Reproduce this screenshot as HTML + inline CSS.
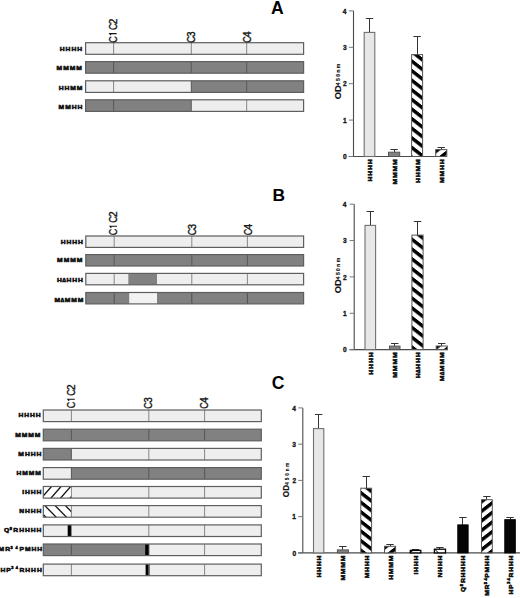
<!DOCTYPE html>
<html><head><meta charset="utf-8"><style>
html,body{margin:0;padding:0;background:#fff;width:520px;height:598px;overflow:hidden;}
svg{display:block;}
text{font-family:"Liberation Sans", sans-serif;}
</style></head><body>
<svg width="520" height="598" viewBox="0 0 520 598">
<defs>
<pattern id="hA3" patternUnits="userSpaceOnUse" width="40" height="9.6" patternTransform="translate(412.1,59.2) skewY(37.95)"><rect x="0" y="0" width="40" height="9.6" fill="#fff"/><rect x="0" y="0" width="40" height="4.4" fill="#000"/></pattern>
<pattern id="hA4" patternUnits="userSpaceOnUse" width="40" height="9.6" patternTransform="translate(435.3,149.6) skewY(-37.95)"><rect x="0" y="0" width="40" height="9.6" fill="#fff"/><rect x="0" y="0" width="40" height="4.4" fill="#000"/></pattern>
<pattern id="hB3" patternUnits="userSpaceOnUse" width="40" height="9.8" patternTransform="translate(412.4,237.5) skewY(37.95)"><rect x="0" y="0" width="40" height="9.8" fill="#fff"/><rect x="0" y="0" width="40" height="4.4" fill="#000"/></pattern>
<pattern id="hB4" patternUnits="userSpaceOnUse" width="40" height="9.6" patternTransform="translate(435.8,345.8) skewY(-37.95)"><rect x="0" y="0" width="40" height="9.6" fill="#fff"/><rect x="0" y="0" width="40" height="4.4" fill="#000"/></pattern>
<pattern id="hC3" patternUnits="userSpaceOnUse" width="40" height="9.6" patternTransform="translate(361.3,490.9) skewY(37.95)"><rect x="0" y="0" width="40" height="9.6" fill="#fff"/><rect x="0" y="0" width="40" height="4.4" fill="#000"/></pattern>
<pattern id="hC4" patternUnits="userSpaceOnUse" width="40" height="9.6" patternTransform="translate(384.5,545.6) skewY(-37.95)"><rect x="0" y="0" width="40" height="9.6" fill="#fff"/><rect x="0" y="0" width="40" height="4.4" fill="#000"/></pattern>
<pattern id="hC8" patternUnits="userSpaceOnUse" width="40" height="9.6" patternTransform="translate(482,508.7) skewY(-37.95)"><rect x="0" y="0" width="40" height="9.6" fill="#fff"/><rect x="0" y="0" width="40" height="4.4" fill="#000"/></pattern>
<clipPath id="clipI"><rect x="43.3" y="486.5" width="28.10000000000001" height="11.6"/></clipPath>
<clipPath id="clipN"><rect x="43.3" y="505.6" width="28.10000000000001" height="11.6"/></clipPath>
</defs>
<text x="271.0" y="13.5" font-size="17.6" font-weight="bold" fill="#000">A</text>
<text x="272.4" y="200.5" font-size="17.4" font-weight="bold" fill="#000">B</text>
<text x="271.8" y="388.5" font-size="17.6" font-weight="bold" fill="#000">C</text>
<rect x="85.6" y="42.7" width="28" height="11.6" fill="#eeeeee"/>
<rect x="113.6" y="42.7" width="77.7" height="11.6" fill="#eeeeee"/>
<rect x="191.3" y="42.7" width="55.4" height="11.6" fill="#eeeeee"/>
<rect x="246.7" y="42.7" width="56.9" height="11.6" fill="#eeeeee"/>
<line x1="113.6" y1="42.7" x2="113.6" y2="54.3" stroke="#7a7a7a" stroke-width="0.9"/>
<line x1="191.3" y1="42.7" x2="191.3" y2="54.3" stroke="#7a7a7a" stroke-width="0.9"/>
<line x1="246.7" y1="42.7" x2="246.7" y2="54.3" stroke="#7a7a7a" stroke-width="0.9"/>
<rect x="85.6" y="42.7" width="218" height="11.6" fill="none" stroke="#5e5e5e" stroke-width="1.2"/>
<text transform="scale(1.12,1)" fill="#111" stroke="#111" stroke-width="0.55"><tspan x="53.38" y="50.87" font-size="6.0" font-weight="bold">H</tspan><tspan x="58.56" y="50.87" font-size="6.0" font-weight="bold">H</tspan><tspan x="63.75" y="50.87" font-size="6.0" font-weight="bold">H</tspan><tspan x="68.93" y="50.87" font-size="6.0" font-weight="bold">H</tspan></text>
<rect x="85.6" y="61.6" width="28" height="11.6" fill="#818181"/>
<rect x="113.6" y="61.6" width="77.7" height="11.6" fill="#818181"/>
<rect x="191.3" y="61.6" width="55.4" height="11.6" fill="#818181"/>
<rect x="246.7" y="61.6" width="56.9" height="11.6" fill="#818181"/>
<line x1="113.6" y1="61.6" x2="113.6" y2="73.2" stroke="#4c4c4c" stroke-width="0.9"/>
<line x1="191.3" y1="61.6" x2="191.3" y2="73.2" stroke="#4c4c4c" stroke-width="0.9"/>
<line x1="246.7" y1="61.6" x2="246.7" y2="73.2" stroke="#4c4c4c" stroke-width="0.9"/>
<rect x="85.6" y="61.6" width="218" height="11.6" fill="none" stroke="#5e5e5e" stroke-width="1.2"/>
<text transform="scale(1.12,1)" fill="#111" stroke="#111" stroke-width="0.55"><tspan x="50.54" y="70.27" font-size="6.0" font-weight="bold">M</tspan><tspan x="56.39" y="70.27" font-size="6.0" font-weight="bold">M</tspan><tspan x="62.24" y="70.27" font-size="6.0" font-weight="bold">M</tspan><tspan x="68.08" y="70.27" font-size="6.0" font-weight="bold">M</tspan></text>
<rect x="85.6" y="80.8" width="28" height="11.6" fill="#eeeeee"/>
<rect x="113.6" y="80.8" width="77.7" height="11.6" fill="#eeeeee"/>
<rect x="191.3" y="80.8" width="55.4" height="11.6" fill="#818181"/>
<rect x="246.7" y="80.8" width="56.9" height="11.6" fill="#818181"/>
<line x1="113.6" y1="80.8" x2="113.6" y2="92.4" stroke="#7a7a7a" stroke-width="0.9"/>
<line x1="191.3" y1="80.8" x2="191.3" y2="92.4" stroke="#4c4c4c" stroke-width="0.9"/>
<line x1="246.7" y1="80.8" x2="246.7" y2="92.4" stroke="#4c4c4c" stroke-width="0.9"/>
<rect x="85.6" y="80.8" width="218" height="11.6" fill="none" stroke="#5e5e5e" stroke-width="1.2"/>
<text transform="scale(1.12,1)" fill="#111" stroke="#111" stroke-width="0.55"><tspan x="52.41" y="89.77" font-size="6.0" font-weight="bold">H</tspan><tspan x="57.59" y="89.77" font-size="6.0" font-weight="bold">H</tspan><tspan x="62.77" y="89.77" font-size="6.0" font-weight="bold">M</tspan><tspan x="68.62" y="89.77" font-size="6.0" font-weight="bold">M</tspan></text>
<rect x="85.6" y="99.8" width="28" height="11.6" fill="#818181"/>
<rect x="113.6" y="99.8" width="77.7" height="11.6" fill="#818181"/>
<rect x="191.3" y="99.8" width="55.4" height="11.6" fill="#eeeeee"/>
<rect x="246.7" y="99.8" width="56.9" height="11.6" fill="#eeeeee"/>
<line x1="113.6" y1="99.8" x2="113.6" y2="111.4" stroke="#4c4c4c" stroke-width="0.9"/>
<line x1="191.3" y1="99.8" x2="191.3" y2="111.4" stroke="#4c4c4c" stroke-width="0.9"/>
<line x1="246.7" y1="99.8" x2="246.7" y2="111.4" stroke="#7a7a7a" stroke-width="0.9"/>
<rect x="85.6" y="99.8" width="218" height="11.6" fill="none" stroke="#5e5e5e" stroke-width="1.2"/>
<text transform="scale(1.12,1)" fill="#111" stroke="#111" stroke-width="0.55"><tspan x="52.32" y="108.77" font-size="6.0" font-weight="bold">M</tspan><tspan x="58.17" y="108.77" font-size="6.0" font-weight="bold">M</tspan><tspan x="64.01" y="108.77" font-size="6.0" font-weight="bold">H</tspan><tspan x="69.19" y="108.77" font-size="6.0" font-weight="bold">H</tspan></text>
<g transform="translate(116.5,42.6) rotate(-90)"><text transform="translate(-0.06,0) scale(0.9,1)" x="0" y="0" font-size="10" fill="#111" stroke="#111" stroke-width="0.35">C</text><path d="M9,0.1 L9,-6.88 L7.4,-5.58" fill="none" stroke="#111" stroke-width="1.05"/><text transform="translate(12.54,0) scale(0.9,1)" x="0" y="0" font-size="10" fill="#111" stroke="#111" stroke-width="0.35">C</text><text transform="translate(18.4,0) scale(1.0,1)" x="0" y="0" font-size="10" fill="#111" stroke="#111" stroke-width="0.35">2</text></g>
<g transform="translate(194.6,42.6) rotate(-90)"><text transform="translate(-0.26,0) scale(0.9,1)" x="0" y="0" font-size="10" fill="#111" stroke="#111" stroke-width="0.35">C</text><text transform="translate(5.62,0) scale(1.0,1)" x="0" y="0" font-size="10" fill="#111" stroke="#111" stroke-width="0.35">3</text></g>
<g transform="translate(251.1,42.6) rotate(-90)"><text transform="translate(-0.26,0) scale(0.9,1)" x="0" y="0" font-size="10" fill="#111" stroke="#111" stroke-width="0.35">C</text><text transform="translate(5.67,0) scale(1.0,1)" x="0" y="0" font-size="10" fill="#111" stroke="#111" stroke-width="0.35">4</text></g>
<rect x="85.8" y="236" width="28.4" height="11.4" fill="#eeeeee"/>
<rect x="114.2" y="236" width="77.6" height="11.4" fill="#eeeeee"/>
<rect x="191.8" y="236" width="55.6" height="11.4" fill="#eeeeee"/>
<rect x="247.4" y="236" width="56.2" height="11.4" fill="#eeeeee"/>
<line x1="114.2" y1="236" x2="114.2" y2="247.4" stroke="#7a7a7a" stroke-width="0.9"/>
<line x1="191.8" y1="236" x2="191.8" y2="247.4" stroke="#7a7a7a" stroke-width="0.9"/>
<line x1="247.4" y1="236" x2="247.4" y2="247.4" stroke="#7a7a7a" stroke-width="0.9"/>
<rect x="85.8" y="236" width="217.8" height="11.4" fill="none" stroke="#5e5e5e" stroke-width="1.2"/>
<text transform="scale(1.12,1)" fill="#111" stroke="#111" stroke-width="0.55"><tspan x="54.19" y="243.77" font-size="6.0" font-weight="bold">H</tspan><tspan x="59.37" y="243.77" font-size="6.0" font-weight="bold">H</tspan><tspan x="64.55" y="243.77" font-size="6.0" font-weight="bold">H</tspan><tspan x="69.73" y="243.77" font-size="6.0" font-weight="bold">H</tspan></text>
<rect x="85.8" y="254.6" width="28.4" height="11.4" fill="#818181"/>
<rect x="114.2" y="254.6" width="77.6" height="11.4" fill="#818181"/>
<rect x="191.8" y="254.6" width="55.6" height="11.4" fill="#818181"/>
<rect x="247.4" y="254.6" width="56.2" height="11.4" fill="#818181"/>
<line x1="114.2" y1="254.6" x2="114.2" y2="266" stroke="#4c4c4c" stroke-width="0.9"/>
<line x1="191.8" y1="254.6" x2="191.8" y2="266" stroke="#4c4c4c" stroke-width="0.9"/>
<line x1="247.4" y1="254.6" x2="247.4" y2="266" stroke="#4c4c4c" stroke-width="0.9"/>
<rect x="85.8" y="254.6" width="217.8" height="11.4" fill="none" stroke="#5e5e5e" stroke-width="1.2"/>
<text transform="scale(1.12,1)" fill="#111" stroke="#111" stroke-width="0.55"><tspan x="50.99" y="262.37" font-size="6.0" font-weight="bold">M</tspan><tspan x="56.84" y="262.37" font-size="6.0" font-weight="bold">M</tspan><tspan x="62.68" y="262.37" font-size="6.0" font-weight="bold">M</tspan><tspan x="68.53" y="262.37" font-size="6.0" font-weight="bold">M</tspan></text>
<rect x="85.8" y="273.4" width="42.5" height="11.4" fill="#eeeeee"/>
<rect x="128.3" y="273.4" width="28.7" height="11.4" fill="#818181"/>
<rect x="157" y="273.4" width="146.6" height="11.4" fill="#eeeeee"/>
<line x1="114.2" y1="273.4" x2="114.2" y2="284.8" stroke="#7a7a7a" stroke-width="0.9"/>
<line x1="191.8" y1="273.4" x2="191.8" y2="284.8" stroke="#7a7a7a" stroke-width="0.9"/>
<line x1="247.4" y1="273.4" x2="247.4" y2="284.8" stroke="#7a7a7a" stroke-width="0.9"/>
<rect x="85.8" y="273.4" width="217.8" height="11.4" fill="none" stroke="#5e5e5e" stroke-width="1.2"/>
<text transform="scale(1.12,1)" fill="#111" stroke="#111" stroke-width="0.55"><tspan x="50.84" y="282.07" font-size="6.0" font-weight="bold">H</tspan><tspan x="55.53" y="282.07" font-size="4.6" font-weight="bold">&#916;</tspan><tspan x="59.28" y="282.07" font-size="6.0" font-weight="bold">H</tspan><tspan x="64.46" y="282.07" font-size="6.0" font-weight="bold">H</tspan><tspan x="69.64" y="282.07" font-size="6.0" font-weight="bold">H</tspan></text>
<rect x="85.8" y="292.5" width="43.7" height="11.4" fill="#818181"/>
<rect x="129.5" y="292.5" width="27.5" height="11.4" fill="#f2f2f2"/>
<rect x="157" y="292.5" width="146.6" height="11.4" fill="#818181"/>
<line x1="114.2" y1="292.5" x2="114.2" y2="303.9" stroke="#4c4c4c" stroke-width="0.9"/>
<line x1="191.8" y1="292.5" x2="191.8" y2="303.9" stroke="#4c4c4c" stroke-width="0.9"/>
<line x1="247.4" y1="292.5" x2="247.4" y2="303.9" stroke="#4c4c4c" stroke-width="0.9"/>
<rect x="85.8" y="292.5" width="217.8" height="11.4" fill="none" stroke="#5e5e5e" stroke-width="1.2"/>
<text transform="scale(1.12,1)" fill="#111" stroke="#111" stroke-width="0.55"><tspan x="48.62" y="301.67" font-size="6.0" font-weight="bold">M</tspan><tspan x="53.98" y="301.67" font-size="4.6" font-weight="bold">&#916;</tspan><tspan x="57.73" y="301.67" font-size="6.0" font-weight="bold">M</tspan><tspan x="63.58" y="301.67" font-size="6.0" font-weight="bold">M</tspan><tspan x="69.42" y="301.67" font-size="6.0" font-weight="bold">M</tspan></text>
<g transform="translate(116.9,235.3) rotate(-90)"><text transform="translate(-0.06,0) scale(0.9,1)" x="0" y="0" font-size="10" fill="#111" stroke="#111" stroke-width="0.35">C</text><path d="M9,0.1 L9,-6.88 L7.4,-5.58" fill="none" stroke="#111" stroke-width="1.05"/><text transform="translate(12.54,0) scale(0.9,1)" x="0" y="0" font-size="10" fill="#111" stroke="#111" stroke-width="0.35">C</text><text transform="translate(18.4,0) scale(1.0,1)" x="0" y="0" font-size="10" fill="#111" stroke="#111" stroke-width="0.35">2</text></g>
<g transform="translate(195.5,235.1) rotate(-90)"><text transform="translate(-0.26,0) scale(0.9,1)" x="0" y="0" font-size="10" fill="#111" stroke="#111" stroke-width="0.35">C</text><text transform="translate(5.62,0) scale(1.0,1)" x="0" y="0" font-size="10" fill="#111" stroke="#111" stroke-width="0.35">3</text></g>
<g transform="translate(251.5,235.1) rotate(-90)"><text transform="translate(-0.26,0) scale(0.9,1)" x="0" y="0" font-size="10" fill="#111" stroke="#111" stroke-width="0.35">C</text><text transform="translate(5.67,0) scale(1.0,1)" x="0" y="0" font-size="10" fill="#111" stroke="#111" stroke-width="0.35">4</text></g>
<rect x="43.3" y="410" width="28.1" height="11.6" fill="#eeeeee"/>
<rect x="71.4" y="410" width="77.4" height="11.6" fill="#eeeeee"/>
<rect x="148.8" y="410" width="55.8" height="11.6" fill="#eeeeee"/>
<rect x="204.6" y="410" width="56.7" height="11.6" fill="#eeeeee"/>
<line x1="71.4" y1="410" x2="71.4" y2="421.6" stroke="#7a7a7a" stroke-width="0.9"/>
<line x1="148.8" y1="410" x2="148.8" y2="421.6" stroke="#7a7a7a" stroke-width="0.9"/>
<line x1="204.6" y1="410" x2="204.6" y2="421.6" stroke="#7a7a7a" stroke-width="0.9"/>
<rect x="43.3" y="410" width="218" height="11.6" fill="none" stroke="#5e5e5e" stroke-width="1.2"/>
<text transform="scale(1.12,1)" fill="#111" stroke="#111" stroke-width="0.55"><tspan x="16.42" y="417.47" font-size="6.0" font-weight="bold">H</tspan><tspan x="21.6" y="417.47" font-size="6.0" font-weight="bold">H</tspan><tspan x="26.78" y="417.47" font-size="6.0" font-weight="bold">H</tspan><tspan x="31.96" y="417.47" font-size="6.0" font-weight="bold">H</tspan></text>
<rect x="43.3" y="429.2" width="28.1" height="11.6" fill="#818181"/>
<rect x="71.4" y="429.2" width="77.4" height="11.6" fill="#818181"/>
<rect x="148.8" y="429.2" width="55.8" height="11.6" fill="#818181"/>
<rect x="204.6" y="429.2" width="56.7" height="11.6" fill="#818181"/>
<line x1="71.4" y1="429.2" x2="71.4" y2="440.8" stroke="#4c4c4c" stroke-width="0.9"/>
<line x1="148.8" y1="429.2" x2="148.8" y2="440.8" stroke="#4c4c4c" stroke-width="0.9"/>
<line x1="204.6" y1="429.2" x2="204.6" y2="440.8" stroke="#4c4c4c" stroke-width="0.9"/>
<rect x="43.3" y="429.2" width="218" height="11.6" fill="none" stroke="#5e5e5e" stroke-width="1.2"/>
<text transform="scale(1.12,1)" fill="#111" stroke="#111" stroke-width="0.55"><tspan x="13.58" y="436.67" font-size="6.0" font-weight="bold">M</tspan><tspan x="19.43" y="436.67" font-size="6.0" font-weight="bold">M</tspan><tspan x="25.27" y="436.67" font-size="6.0" font-weight="bold">M</tspan><tspan x="31.12" y="436.67" font-size="6.0" font-weight="bold">M</tspan></text>
<rect x="43.3" y="448.4" width="28.1" height="11.6" fill="#818181"/>
<rect x="71.4" y="448.4" width="77.4" height="11.6" fill="#eeeeee"/>
<rect x="148.8" y="448.4" width="55.8" height="11.6" fill="#eeeeee"/>
<rect x="204.6" y="448.4" width="56.7" height="11.6" fill="#eeeeee"/>
<line x1="71.4" y1="448.4" x2="71.4" y2="460" stroke="#4c4c4c" stroke-width="0.9"/>
<line x1="148.8" y1="448.4" x2="148.8" y2="460" stroke="#7a7a7a" stroke-width="0.9"/>
<line x1="204.6" y1="448.4" x2="204.6" y2="460" stroke="#7a7a7a" stroke-width="0.9"/>
<rect x="43.3" y="448.4" width="218" height="11.6" fill="none" stroke="#5e5e5e" stroke-width="1.2"/>
<text transform="scale(1.12,1)" fill="#111" stroke="#111" stroke-width="0.55"><tspan x="16.38" y="455.87" font-size="6.0" font-weight="bold">M</tspan><tspan x="22.23" y="455.87" font-size="6.0" font-weight="bold">H</tspan><tspan x="27.41" y="455.87" font-size="6.0" font-weight="bold">H</tspan><tspan x="32.59" y="455.87" font-size="6.0" font-weight="bold">H</tspan></text>
<rect x="43.3" y="467.6" width="28.1" height="11.6" fill="#eeeeee"/>
<rect x="71.4" y="467.6" width="77.4" height="11.6" fill="#818181"/>
<rect x="148.8" y="467.6" width="55.8" height="11.6" fill="#818181"/>
<rect x="204.6" y="467.6" width="56.7" height="11.6" fill="#818181"/>
<line x1="71.4" y1="467.6" x2="71.4" y2="479.2" stroke="#4c4c4c" stroke-width="0.9"/>
<line x1="148.8" y1="467.6" x2="148.8" y2="479.2" stroke="#4c4c4c" stroke-width="0.9"/>
<line x1="204.6" y1="467.6" x2="204.6" y2="479.2" stroke="#4c4c4c" stroke-width="0.9"/>
<rect x="43.3" y="467.6" width="218" height="11.6" fill="none" stroke="#5e5e5e" stroke-width="1.2"/>
<text transform="scale(1.12,1)" fill="#111" stroke="#111" stroke-width="0.55"><tspan x="14.69" y="475.07" font-size="6.0" font-weight="bold">H</tspan><tspan x="19.87" y="475.07" font-size="6.0" font-weight="bold">M</tspan><tspan x="25.72" y="475.07" font-size="6.0" font-weight="bold">M</tspan><tspan x="31.56" y="475.07" font-size="6.0" font-weight="bold">M</tspan></text>
<rect x="43.3" y="486.5" width="28.1" height="11.6" fill="#fff"/>
<rect x="71.4" y="486.5" width="77.4" height="11.6" fill="#eeeeee"/>
<rect x="148.8" y="486.5" width="55.8" height="11.6" fill="#eeeeee"/>
<rect x="204.6" y="486.5" width="56.7" height="11.6" fill="#eeeeee"/>
<g clip-path="url(#clipI)"><line x1="40.9" y1="498.6" x2="51.9" y2="486" stroke="#111" stroke-width="1.3"/><line x1="50.5" y1="498.6" x2="61.5" y2="486" stroke="#111" stroke-width="1.3"/><line x1="60.1" y1="498.6" x2="71.1" y2="486" stroke="#111" stroke-width="1.3"/><line x1="69.7" y1="498.6" x2="80.7" y2="486" stroke="#111" stroke-width="1.3"/></g>
<line x1="71.4" y1="486.5" x2="71.4" y2="498.1" stroke="#7a7a7a" stroke-width="0.9"/>
<line x1="148.8" y1="486.5" x2="148.8" y2="498.1" stroke="#7a7a7a" stroke-width="0.9"/>
<line x1="204.6" y1="486.5" x2="204.6" y2="498.1" stroke="#7a7a7a" stroke-width="0.9"/>
<rect x="43.3" y="486.5" width="218" height="11.6" fill="none" stroke="#5e5e5e" stroke-width="1.2"/>
<text transform="scale(1.12,1)" fill="#111" stroke="#111" stroke-width="0.55"><tspan x="19.8" y="493.97" font-size="6.0" font-weight="bold">I</tspan><tspan x="22.31" y="493.97" font-size="6.0" font-weight="bold">H</tspan><tspan x="27.5" y="493.97" font-size="6.0" font-weight="bold">H</tspan><tspan x="32.68" y="493.97" font-size="6.0" font-weight="bold">H</tspan></text>
<rect x="43.3" y="505.6" width="28.1" height="11.6" fill="#fff"/>
<rect x="71.4" y="505.6" width="77.4" height="11.6" fill="#eeeeee"/>
<rect x="148.8" y="505.6" width="55.8" height="11.6" fill="#eeeeee"/>
<rect x="204.6" y="505.6" width="56.7" height="11.6" fill="#eeeeee"/>
<g clip-path="url(#clipN)"><line x1="34" y1="505.1" x2="46.4" y2="517.7" stroke="#111" stroke-width="1.3"/><line x1="44.3" y1="505.1" x2="56.7" y2="517.7" stroke="#111" stroke-width="1.3"/><line x1="54.6" y1="505.1" x2="67" y2="517.7" stroke="#111" stroke-width="1.3"/><line x1="64.9" y1="505.1" x2="77.3" y2="517.7" stroke="#111" stroke-width="1.3"/><line x1="75.2" y1="505.1" x2="87.6" y2="517.7" stroke="#111" stroke-width="1.3"/></g>
<line x1="71.4" y1="505.6" x2="71.4" y2="517.2" stroke="#7a7a7a" stroke-width="0.9"/>
<line x1="148.8" y1="505.6" x2="148.8" y2="517.2" stroke="#7a7a7a" stroke-width="0.9"/>
<line x1="204.6" y1="505.6" x2="204.6" y2="517.2" stroke="#7a7a7a" stroke-width="0.9"/>
<rect x="43.3" y="505.6" width="218" height="11.6" fill="none" stroke="#5e5e5e" stroke-width="1.2"/>
<text transform="scale(1.12,1)" fill="#111" stroke="#111" stroke-width="0.55"><tspan x="17.13" y="513.07" font-size="6.0" font-weight="bold">N</tspan><tspan x="22.31" y="513.07" font-size="6.0" font-weight="bold">H</tspan><tspan x="27.5" y="513.07" font-size="6.0" font-weight="bold">H</tspan><tspan x="32.68" y="513.07" font-size="6.0" font-weight="bold">H</tspan></text>
<rect x="43.3" y="524.9" width="28.1" height="11.6" fill="#eeeeee"/>
<rect x="71.4" y="524.9" width="77.4" height="11.6" fill="#eeeeee"/>
<rect x="148.8" y="524.9" width="55.8" height="11.6" fill="#eeeeee"/>
<rect x="204.6" y="524.9" width="56.7" height="11.6" fill="#eeeeee"/>
<rect x="67.7" y="524.9" width="3.5" height="11.6" fill="#000"/>
<line x1="71.4" y1="524.9" x2="71.4" y2="536.5" stroke="#7a7a7a" stroke-width="0.9"/>
<line x1="148.8" y1="524.9" x2="148.8" y2="536.5" stroke="#7a7a7a" stroke-width="0.9"/>
<line x1="204.6" y1="524.9" x2="204.6" y2="536.5" stroke="#7a7a7a" stroke-width="0.9"/>
<rect x="43.3" y="524.9" width="218" height="11.6" fill="none" stroke="#5e5e5e" stroke-width="1.2"/>
<text transform="scale(1.12,1)" fill="#111" stroke="#111" stroke-width="0.55"><tspan x="3.61" y="532.37" font-size="6.0" font-weight="bold">Q</tspan><tspan x="8.81" y="530.17" font-size="3.4" font-weight="bold">8</tspan><tspan x="11.95" y="532.37" font-size="6.0" font-weight="bold">R</tspan><tspan x="17.13" y="532.37" font-size="6.0" font-weight="bold">H</tspan><tspan x="22.31" y="532.37" font-size="6.0" font-weight="bold">H</tspan><tspan x="27.5" y="532.37" font-size="6.0" font-weight="bold">H</tspan><tspan x="32.68" y="532.37" font-size="6.0" font-weight="bold">H</tspan></text>
<rect x="43.3" y="544" width="28.1" height="11.6" fill="#818181"/>
<rect x="71.4" y="544" width="77.4" height="11.6" fill="#818181"/>
<rect x="148.8" y="544" width="55.8" height="11.6" fill="#eeeeee"/>
<rect x="204.6" y="544" width="56.7" height="11.6" fill="#eeeeee"/>
<rect x="145.2" y="544" width="3.9" height="11.6" fill="#000"/>
<line x1="71.4" y1="544" x2="71.4" y2="555.6" stroke="#4c4c4c" stroke-width="0.9"/>
<line x1="148.8" y1="544" x2="148.8" y2="555.6" stroke="#4c4c4c" stroke-width="0.9"/>
<line x1="204.6" y1="544" x2="204.6" y2="555.6" stroke="#7a7a7a" stroke-width="0.9"/>
<rect x="43.3" y="544" width="218" height="11.6" fill="none" stroke="#5e5e5e" stroke-width="1.2"/>
<text transform="scale(1.12,1)" fill="#111" stroke="#111" stroke-width="0.55"><tspan x="-1.27" y="551.47" font-size="6.0" font-weight="bold">M</tspan><tspan x="4.58" y="551.47" font-size="6.0" font-weight="bold">R</tspan><tspan x="9.36" y="549.27" font-size="3.4" font-weight="bold">3</tspan><tspan x="13.93" y="549.27" font-size="3.4" font-weight="bold">4</tspan><tspan x="17.42" y="551.47" font-size="6.0" font-weight="bold">P</tspan><tspan x="22.27" y="551.47" font-size="6.0" font-weight="bold">M</tspan><tspan x="28.12" y="551.47" font-size="6.0" font-weight="bold">H</tspan><tspan x="33.3" y="551.47" font-size="6.0" font-weight="bold">H</tspan></text>
<rect x="43.3" y="564.1" width="28.1" height="11.6" fill="#eeeeee"/>
<rect x="71.4" y="564.1" width="77.4" height="11.6" fill="#eeeeee"/>
<rect x="148.8" y="564.1" width="55.8" height="11.6" fill="#eeeeee"/>
<rect x="204.6" y="564.1" width="56.7" height="11.6" fill="#eeeeee"/>
<rect x="145.6" y="564.1" width="3.9" height="11.6" fill="#000"/>
<line x1="71.4" y1="564.1" x2="71.4" y2="575.7" stroke="#7a7a7a" stroke-width="0.9"/>
<line x1="148.8" y1="564.1" x2="148.8" y2="575.7" stroke="#7a7a7a" stroke-width="0.9"/>
<line x1="204.6" y1="564.1" x2="204.6" y2="575.7" stroke="#7a7a7a" stroke-width="0.9"/>
<rect x="43.3" y="564.1" width="218" height="11.6" fill="none" stroke="#5e5e5e" stroke-width="1.2"/>
<text transform="scale(1.12,1)" fill="#111" stroke="#111" stroke-width="0.55"><tspan x="0.51" y="571.57" font-size="6.0" font-weight="bold">H</tspan><tspan x="5.69" y="571.57" font-size="6.0" font-weight="bold">P</tspan><tspan x="10.14" y="569.37" font-size="3.4" font-weight="bold">3</tspan><tspan x="14.17" y="569.37" font-size="3.4" font-weight="bold">4</tspan><tspan x="17.4" y="571.57" font-size="6.0" font-weight="bold">R</tspan><tspan x="22.58" y="571.57" font-size="6.0" font-weight="bold">H</tspan><tspan x="27.76" y="571.57" font-size="6.0" font-weight="bold">H</tspan><tspan x="32.94" y="571.57" font-size="6.0" font-weight="bold">H</tspan></text>
<g transform="translate(74.7,408.3) rotate(-90)"><text transform="translate(-0.06,0) scale(0.9,1)" x="0" y="0" font-size="10" fill="#111" stroke="#111" stroke-width="0.35">C</text><path d="M9,0.1 L9,-6.88 L7.4,-5.58" fill="none" stroke="#111" stroke-width="1.05"/><text transform="translate(12.54,0) scale(0.9,1)" x="0" y="0" font-size="10" fill="#111" stroke="#111" stroke-width="0.35">C</text><text transform="translate(18.4,0) scale(1.0,1)" x="0" y="0" font-size="10" fill="#111" stroke="#111" stroke-width="0.35">2</text></g>
<g transform="translate(152.4,408.4) rotate(-90)"><text transform="translate(-0.26,0) scale(0.9,1)" x="0" y="0" font-size="10" fill="#111" stroke="#111" stroke-width="0.35">C</text><text transform="translate(5.62,0) scale(1.0,1)" x="0" y="0" font-size="10" fill="#111" stroke="#111" stroke-width="0.35">3</text></g>
<g transform="translate(208.1,408.4) rotate(-90)"><text transform="translate(-0.26,0) scale(0.9,1)" x="0" y="0" font-size="10" fill="#111" stroke="#111" stroke-width="0.35">C</text><text transform="translate(5.67,0) scale(1.0,1)" x="0" y="0" font-size="10" fill="#111" stroke="#111" stroke-width="0.35">4</text></g>
<line x1="353.5" y1="10.9" x2="353.5" y2="156.5" stroke="#4a4a4a" stroke-width="1.1"/>
<line x1="348.7" y1="156.5" x2="447" y2="156.5" stroke="#4a4a4a" stroke-width="1.1"/>
<line x1="348.9" y1="156.5" x2="353.5" y2="156.5" stroke="#777" stroke-width="1"/>
<text fill="#111" stroke="#111" stroke-width="0.3"><tspan x="343" y="159.17" font-size="6.6" font-weight="bold">0</tspan></text>
<line x1="348.9" y1="120.1" x2="353.5" y2="120.1" stroke="#777" stroke-width="1"/>
<text fill="#111" stroke="#111" stroke-width="0.3"><tspan x="342.92" y="122.77" font-size="6.6" font-weight="bold">1</tspan></text>
<line x1="348.9" y1="83.7" x2="353.5" y2="83.7" stroke="#777" stroke-width="1"/>
<text fill="#111" stroke="#111" stroke-width="0.3"><tspan x="342.99" y="86.37" font-size="6.6" font-weight="bold">2</tspan></text>
<line x1="348.9" y1="47.3" x2="353.5" y2="47.3" stroke="#777" stroke-width="1"/>
<text fill="#111" stroke="#111" stroke-width="0.3"><tspan x="342.97" y="49.97" font-size="6.6" font-weight="bold">3</tspan></text>
<line x1="348.9" y1="10.9" x2="353.5" y2="10.9" stroke="#777" stroke-width="1"/>
<text fill="#111" stroke="#111" stroke-width="0.3"><tspan x="342.76" y="13.57" font-size="6.6" font-weight="bold">4</tspan></text>
<text transform="translate(340.6,98.8) rotate(-90)" fill="#111" stroke="#111" stroke-width="0.15"><tspan x="-0.38" y="0" font-size="9.3" font-weight="bold">O</tspan><tspan x="6.85" y="0" font-size="9.3" font-weight="bold">D</tspan><tspan x="13.67" y="-0.5" font-size="5" font-weight="bold">4</tspan><tspan x="17.85" y="-0.5" font-size="5" font-weight="bold">5</tspan><tspan x="22.03" y="-0.5" font-size="5" font-weight="bold">0</tspan><tspan x="26.21" y="-0.5" font-size="5" font-weight="bold">n</tspan><tspan x="30.67" y="-0.5" font-size="5" font-weight="bold">m</tspan></text>
<line x1="369.5" y1="18.5" x2="369.5" y2="32.4" stroke="#333" stroke-width="1"/>
<line x1="365.8" y1="18.5" x2="373.2" y2="18.5" stroke="#333" stroke-width="1"/>
<rect x="364.2" y="32.4" width="10.6" height="124.1" fill="#e7e7e7" stroke="#707070" stroke-width="1.1"/>
<line x1="394.5" y1="149.5" x2="394.5" y2="152.2" stroke="#333" stroke-width="1"/>
<line x1="390.4" y1="149.5" x2="397.8" y2="149.5" stroke="#333" stroke-width="1"/>
<rect x="388.5" y="152.2" width="11.2" height="4.3" fill="#818181" stroke="#555" stroke-width="1"/>
<line x1="417.5" y1="36.5" x2="417.5" y2="54.6" stroke="#333" stroke-width="1"/>
<line x1="413.4" y1="36.5" x2="420.8" y2="36.5" stroke="#333" stroke-width="1"/>
<rect x="411.6" y="54.6" width="11" height="101.9" fill="url(#hA3)" stroke="#555" stroke-width="1"/>
<line x1="441.5" y1="147.5" x2="441.5" y2="149.6" stroke="#333" stroke-width="1"/>
<line x1="437.55" y1="147.5" x2="444.95" y2="147.5" stroke="#333" stroke-width="1"/>
<rect x="435.7" y="149.6" width="11.1" height="6.9" fill="url(#hA4)" stroke="#555" stroke-width="1"/>
<text transform="translate(371.96,181.16) rotate(-90) scale(1.12,1)" fill="#111" stroke="#111" stroke-width="0.55"><tspan x="-0.4" y="0" font-size="6.0" font-weight="bold">H</tspan><tspan x="4.78" y="0" font-size="6.0" font-weight="bold">H</tspan><tspan x="9.96" y="0" font-size="6.0" font-weight="bold">H</tspan><tspan x="15.14" y="0" font-size="6.0" font-weight="bold">H</tspan></text>
<text transform="translate(396.56,184.14) rotate(-90) scale(1.12,1)" fill="#111" stroke="#111" stroke-width="0.55"><tspan x="-0.4" y="0" font-size="6.0" font-weight="bold">M</tspan><tspan x="5.44" y="0" font-size="6.0" font-weight="bold">M</tspan><tspan x="11.29" y="0" font-size="6.0" font-weight="bold">M</tspan><tspan x="17.14" y="0" font-size="6.0" font-weight="bold">M</tspan></text>
<text transform="translate(419.56,182.65) rotate(-90) scale(1.12,1)" fill="#111" stroke="#111" stroke-width="0.55"><tspan x="-0.4" y="0" font-size="6.0" font-weight="bold">H</tspan><tspan x="4.78" y="0" font-size="6.0" font-weight="bold">H</tspan><tspan x="9.96" y="0" font-size="6.0" font-weight="bold">M</tspan><tspan x="15.81" y="0" font-size="6.0" font-weight="bold">M</tspan></text>
<text transform="translate(443.71,182.65) rotate(-90) scale(1.12,1)" fill="#111" stroke="#111" stroke-width="0.55"><tspan x="-0.4" y="0" font-size="6.0" font-weight="bold">M</tspan><tspan x="5.44" y="0" font-size="6.0" font-weight="bold">M</tspan><tspan x="11.29" y="0" font-size="6.0" font-weight="bold">H</tspan><tspan x="16.47" y="0" font-size="6.0" font-weight="bold">H</tspan></text>
<line x1="354.2" y1="204.2" x2="354.2" y2="349.6" stroke="#4a4a4a" stroke-width="1.1"/>
<line x1="349.6" y1="349.6" x2="447.5" y2="349.6" stroke="#4a4a4a" stroke-width="1.1"/>
<line x1="349.6" y1="349.6" x2="354.2" y2="349.6" stroke="#777" stroke-width="1"/>
<text fill="#111" stroke="#111" stroke-width="0.3"><tspan x="343" y="352.27" font-size="6.6" font-weight="bold">0</tspan></text>
<line x1="349.6" y1="313.25" x2="354.2" y2="313.25" stroke="#777" stroke-width="1"/>
<text fill="#111" stroke="#111" stroke-width="0.3"><tspan x="342.92" y="315.92" font-size="6.6" font-weight="bold">1</tspan></text>
<line x1="349.6" y1="276.9" x2="354.2" y2="276.9" stroke="#777" stroke-width="1"/>
<text fill="#111" stroke="#111" stroke-width="0.3"><tspan x="342.99" y="279.57" font-size="6.6" font-weight="bold">2</tspan></text>
<line x1="349.6" y1="240.55" x2="354.2" y2="240.55" stroke="#777" stroke-width="1"/>
<text fill="#111" stroke="#111" stroke-width="0.3"><tspan x="342.97" y="243.22" font-size="6.6" font-weight="bold">3</tspan></text>
<line x1="349.6" y1="204.2" x2="354.2" y2="204.2" stroke="#777" stroke-width="1"/>
<text fill="#111" stroke="#111" stroke-width="0.3"><tspan x="342.76" y="206.87" font-size="6.6" font-weight="bold">4</tspan></text>
<text transform="translate(340.6,292.9) rotate(-90)" fill="#111" stroke="#111" stroke-width="0.15"><tspan x="-0.38" y="0" font-size="9.3" font-weight="bold">O</tspan><tspan x="6.85" y="0" font-size="9.3" font-weight="bold">D</tspan><tspan x="13.67" y="-0.5" font-size="5" font-weight="bold">4</tspan><tspan x="17.85" y="-0.5" font-size="5" font-weight="bold">5</tspan><tspan x="22.03" y="-0.5" font-size="5" font-weight="bold">0</tspan><tspan x="26.21" y="-0.5" font-size="5" font-weight="bold">n</tspan><tspan x="30.67" y="-0.5" font-size="5" font-weight="bold">m</tspan></text>
<line x1="370.5" y1="211.5" x2="370.5" y2="225.4" stroke="#333" stroke-width="1"/>
<line x1="366.6" y1="211.5" x2="374" y2="211.5" stroke="#333" stroke-width="1"/>
<rect x="365" y="225.4" width="10.6" height="124.2" fill="#e7e7e7" stroke="#707070" stroke-width="1.1"/>
<line x1="394.5" y1="343.5" x2="394.5" y2="346.1" stroke="#333" stroke-width="1"/>
<line x1="391.05" y1="343.5" x2="398.45" y2="343.5" stroke="#333" stroke-width="1"/>
<rect x="389.5" y="346.1" width="10.5" height="3.5" fill="#818181" stroke="#555" stroke-width="1"/>
<line x1="417.5" y1="221.5" x2="417.5" y2="235.1" stroke="#333" stroke-width="1"/>
<line x1="413.8" y1="221.5" x2="421.2" y2="221.5" stroke="#333" stroke-width="1"/>
<rect x="411.9" y="235.1" width="11.2" height="114.5" fill="url(#hB3)" stroke="#555" stroke-width="1"/>
<line x1="441.5" y1="343.5" x2="441.5" y2="346" stroke="#333" stroke-width="1"/>
<line x1="438.05" y1="343.5" x2="445.45" y2="343.5" stroke="#333" stroke-width="1"/>
<rect x="436.2" y="346" width="11.1" height="3.6" fill="url(#hB4)" stroke="#555" stroke-width="1"/>
<text transform="translate(372.76,374.26) rotate(-90) scale(1.12,1)" fill="#111" stroke="#111" stroke-width="0.55"><tspan x="-0.4" y="0" font-size="6.0" font-weight="bold">H</tspan><tspan x="4.78" y="0" font-size="6.0" font-weight="bold">H</tspan><tspan x="9.96" y="0" font-size="6.0" font-weight="bold">H</tspan><tspan x="15.14" y="0" font-size="6.0" font-weight="bold">H</tspan></text>
<text transform="translate(397.21,377.24) rotate(-90) scale(1.12,1)" fill="#111" stroke="#111" stroke-width="0.55"><tspan x="-0.4" y="0" font-size="6.0" font-weight="bold">M</tspan><tspan x="5.44" y="0" font-size="6.0" font-weight="bold">M</tspan><tspan x="11.29" y="0" font-size="6.0" font-weight="bold">M</tspan><tspan x="17.14" y="0" font-size="6.0" font-weight="bold">M</tspan></text>
<text transform="translate(419.96,377.91) rotate(-90) scale(1.12,1)" fill="#111" stroke="#111" stroke-width="0.55"><tspan x="-0.4" y="0" font-size="6.0" font-weight="bold">H</tspan><tspan x="4.29" y="0" font-size="4.6" font-weight="bold">&#916;</tspan><tspan x="8.04" y="0" font-size="6.0" font-weight="bold">H</tspan><tspan x="13.22" y="0" font-size="6.0" font-weight="bold">H</tspan><tspan x="18.4" y="0" font-size="6.0" font-weight="bold">H</tspan></text>
<text transform="translate(444.21,380.89) rotate(-90) scale(1.12,1)" fill="#111" stroke="#111" stroke-width="0.55"><tspan x="-0.4" y="0" font-size="6.0" font-weight="bold">M</tspan><tspan x="4.95" y="0" font-size="4.6" font-weight="bold">&#916;</tspan><tspan x="8.71" y="0" font-size="6.0" font-weight="bold">M</tspan><tspan x="14.55" y="0" font-size="6.0" font-weight="bold">M</tspan><tspan x="20.4" y="0" font-size="6.0" font-weight="bold">M</tspan></text>
<line x1="302.8" y1="407.9" x2="302.8" y2="552.9" stroke="#4a4a4a" stroke-width="1.1"/>
<line x1="298.2" y1="552.9" x2="520" y2="552.9" stroke="#4a4a4a" stroke-width="1.1"/>
<line x1="298.2" y1="552.9" x2="302.8" y2="552.9" stroke="#777" stroke-width="1"/>
<text fill="#111" stroke="#111" stroke-width="0.3"><tspan x="292.4" y="555.57" font-size="6.6" font-weight="bold">0</tspan></text>
<line x1="298.2" y1="516.65" x2="302.8" y2="516.65" stroke="#777" stroke-width="1"/>
<text fill="#111" stroke="#111" stroke-width="0.3"><tspan x="292.32" y="519.32" font-size="6.6" font-weight="bold">1</tspan></text>
<line x1="298.2" y1="480.4" x2="302.8" y2="480.4" stroke="#777" stroke-width="1"/>
<text fill="#111" stroke="#111" stroke-width="0.3"><tspan x="292.39" y="483.07" font-size="6.6" font-weight="bold">2</tspan></text>
<line x1="298.2" y1="444.15" x2="302.8" y2="444.15" stroke="#777" stroke-width="1"/>
<text fill="#111" stroke="#111" stroke-width="0.3"><tspan x="292.37" y="446.82" font-size="6.6" font-weight="bold">3</tspan></text>
<line x1="298.2" y1="407.9" x2="302.8" y2="407.9" stroke="#777" stroke-width="1"/>
<text fill="#111" stroke="#111" stroke-width="0.3"><tspan x="292.16" y="410.57" font-size="6.6" font-weight="bold">4</tspan></text>
<text transform="translate(289.3,496.8) rotate(-90)" fill="#111" stroke="#111" stroke-width="0.15"><tspan x="-0.34" y="0" font-size="8.2" font-weight="bold">O</tspan><tspan x="6.04" y="0" font-size="8.2" font-weight="bold">D</tspan><tspan x="12.06" y="-0.5" font-size="4.6" font-weight="bold">4</tspan><tspan x="16.52" y="-0.5" font-size="4.6" font-weight="bold">5</tspan><tspan x="20.98" y="-0.5" font-size="4.6" font-weight="bold">0</tspan><tspan x="25.44" y="-0.5" font-size="4.6" font-weight="bold">n</tspan><tspan x="30.15" y="-0.5" font-size="4.6" font-weight="bold">m</tspan></text>
<line x1="318.5" y1="414.5" x2="318.5" y2="428.6" stroke="#333" stroke-width="1"/>
<line x1="314.95" y1="414.5" x2="322.35" y2="414.5" stroke="#333" stroke-width="1"/>
<rect x="313.5" y="428.6" width="10.3" height="124.3" fill="#e7e7e7" stroke="#707070" stroke-width="1.1"/>
<line x1="342.5" y1="546.5" x2="342.5" y2="549.9" stroke="#333" stroke-width="1"/>
<line x1="339.2" y1="546.5" x2="346.6" y2="546.5" stroke="#333" stroke-width="1"/>
<rect x="337.4" y="549.9" width="11" height="3" fill="#818181" stroke="#555" stroke-width="1"/>
<line x1="366.5" y1="476.5" x2="366.5" y2="488.2" stroke="#333" stroke-width="1"/>
<line x1="362.5" y1="476.5" x2="369.9" y2="476.5" stroke="#333" stroke-width="1"/>
<rect x="360.8" y="488.2" width="10.8" height="64.7" fill="url(#hC3)" stroke="#555" stroke-width="1"/>
<line x1="390.5" y1="544.5" x2="390.5" y2="546.3" stroke="#333" stroke-width="1"/>
<line x1="386.35" y1="544.5" x2="393.75" y2="544.5" stroke="#333" stroke-width="1"/>
<rect x="384.5" y="546.3" width="11.1" height="6.6" fill="url(#hC4)" stroke="#555" stroke-width="1"/>
<line x1="415.5" y1="549.5" x2="415.5" y2="550.4" stroke="#333" stroke-width="1"/>
<line x1="411.85" y1="549.5" x2="419.25" y2="549.5" stroke="#333" stroke-width="1"/>
<rect x="410.3" y="550.4" width="10.5" height="2.5" fill="#fff" stroke="#000" stroke-width="1.3"/>
<line x1="410.5" y1="552" x2="413.5" y2="550.2" stroke="#000" stroke-width="1"/>
<line x1="439.5" y1="547.5" x2="439.5" y2="549.2" stroke="#333" stroke-width="1"/>
<line x1="436.25" y1="547.5" x2="443.65" y2="547.5" stroke="#333" stroke-width="1"/>
<rect x="434.4" y="549.2" width="11.1" height="3.7" fill="#fff" stroke="#000" stroke-width="1.3"/>
<line x1="434.6" y1="549" x2="438.5" y2="553" stroke="#000" stroke-width="1"/>
<line x1="462.5" y1="517.5" x2="462.5" y2="524.9" stroke="#333" stroke-width="1"/>
<line x1="459.25" y1="517.5" x2="466.65" y2="517.5" stroke="#333" stroke-width="1"/>
<rect x="457.8" y="524.9" width="10.3" height="28" fill="#050505" stroke="#000" stroke-width="1"/>
<line x1="486.5" y1="496.5" x2="486.5" y2="499.7" stroke="#333" stroke-width="1"/>
<line x1="483.2" y1="496.5" x2="490.6" y2="496.5" stroke="#333" stroke-width="1"/>
<rect x="481.5" y="499.7" width="10.8" height="53.2" fill="url(#hC8)" stroke="#555" stroke-width="1"/>
<line x1="510.5" y1="517.5" x2="510.5" y2="519.7" stroke="#333" stroke-width="1"/>
<line x1="506.35" y1="517.5" x2="513.75" y2="517.5" stroke="#333" stroke-width="1"/>
<rect x="504.8" y="519.7" width="10.5" height="33.2" fill="#050505" stroke="#000" stroke-width="1"/>
<text transform="translate(321.11,577.11) rotate(-90) scale(1.12,1)" fill="#111" stroke="#111" stroke-width="0.55"><tspan x="-0.4" y="0" font-size="6.0" font-weight="bold">H</tspan><tspan x="4.65" y="0" font-size="6.0" font-weight="bold">H</tspan><tspan x="9.69" y="0" font-size="6.0" font-weight="bold">H</tspan><tspan x="14.74" y="0" font-size="6.0" font-weight="bold">H</tspan></text>
<text transform="translate(345.36,580.09) rotate(-90) scale(1.12,1)" fill="#111" stroke="#111" stroke-width="0.55"><tspan x="-0.4" y="0" font-size="6.0" font-weight="bold">M</tspan><tspan x="5.31" y="0" font-size="6.0" font-weight="bold">M</tspan><tspan x="11.02" y="0" font-size="6.0" font-weight="bold">M</tspan><tspan x="16.74" y="0" font-size="6.0" font-weight="bold">M</tspan></text>
<text transform="translate(368.66,577.86) rotate(-90) scale(1.12,1)" fill="#111" stroke="#111" stroke-width="0.55"><tspan x="-0.4" y="0" font-size="6.0" font-weight="bold">M</tspan><tspan x="5.31" y="0" font-size="6.0" font-weight="bold">H</tspan><tspan x="10.36" y="0" font-size="6.0" font-weight="bold">H</tspan><tspan x="15.41" y="0" font-size="6.0" font-weight="bold">H</tspan></text>
<text transform="translate(392.51,579.35) rotate(-90) scale(1.12,1)" fill="#111" stroke="#111" stroke-width="0.55"><tspan x="-0.4" y="0" font-size="6.0" font-weight="bold">H</tspan><tspan x="4.65" y="0" font-size="6.0" font-weight="bold">M</tspan><tspan x="10.36" y="0" font-size="6.0" font-weight="bold">M</tspan><tspan x="16.07" y="0" font-size="6.0" font-weight="bold">M</tspan></text>
<text transform="translate(418.01,574.12) rotate(-90) scale(1.12,1)" fill="#111" stroke="#111" stroke-width="0.55"><tspan x="-0.4" y="0" font-size="6.0" font-weight="bold">I</tspan><tspan x="1.98" y="0" font-size="6.0" font-weight="bold">H</tspan><tspan x="7.03" y="0" font-size="6.0" font-weight="bold">H</tspan><tspan x="12.07" y="0" font-size="6.0" font-weight="bold">H</tspan></text>
<text transform="translate(442.41,577.11) rotate(-90) scale(1.12,1)" fill="#111" stroke="#111" stroke-width="0.55"><tspan x="-0.4" y="0" font-size="6.0" font-weight="bold">N</tspan><tspan x="4.65" y="0" font-size="6.0" font-weight="bold">H</tspan><tspan x="9.69" y="0" font-size="6.0" font-weight="bold">H</tspan><tspan x="14.74" y="0" font-size="6.0" font-weight="bold">H</tspan></text>
<text transform="translate(465.41,591.68) rotate(-90) scale(1.12,1)" fill="#111" stroke="#111" stroke-width="0.55"><tspan x="-0.25" y="0" font-size="6.0" font-weight="bold">Q</tspan><tspan x="4.87" y="-2.2" font-size="3.4" font-weight="bold">8</tspan><tspan x="7.74" y="0" font-size="6.0" font-weight="bold">R</tspan><tspan x="12.74" y="0" font-size="6.0" font-weight="bold">H</tspan><tspan x="17.75" y="0" font-size="6.0" font-weight="bold">H</tspan><tspan x="22.75" y="0" font-size="6.0" font-weight="bold">H</tspan><tspan x="27.75" y="0" font-size="6.0" font-weight="bold">H</tspan></text>
<text transform="translate(489.36,595.37) rotate(-90) scale(1.12,1)" fill="#111" stroke="#111" stroke-width="0.55"><tspan x="-0.4" y="0" font-size="6.0" font-weight="bold">M</tspan><tspan x="5.22" y="0" font-size="6.0" font-weight="bold">R</tspan><tspan x="10" y="-2.2" font-size="3.4" font-weight="bold">3</tspan><tspan x="13.23" y="-2.2" font-size="3.4" font-weight="bold">4</tspan><tspan x="15.84" y="0" font-size="6.0" font-weight="bold">P</tspan><tspan x="20.46" y="0" font-size="6.0" font-weight="bold">M</tspan><tspan x="26.09" y="0" font-size="6.0" font-weight="bold">H</tspan><tspan x="31.04" y="0" font-size="6.0" font-weight="bold">H</tspan></text>
<text transform="translate(512.51,594.08) rotate(-90) scale(1.12,1)" fill="#111" stroke="#111" stroke-width="0.55"><tspan x="-0.4" y="0" font-size="6.0" font-weight="bold">H</tspan><tspan x="4.6" y="0" font-size="6.0" font-weight="bold">P</tspan><tspan x="9.14" y="-2.2" font-size="3.4" font-weight="bold">3</tspan><tspan x="12.15" y="-2.2" font-size="3.4" font-weight="bold">4</tspan><tspan x="14.88" y="0" font-size="6.0" font-weight="bold">R</tspan><tspan x="19.89" y="0" font-size="6.0" font-weight="bold">H</tspan><tspan x="24.89" y="0" font-size="6.0" font-weight="bold">H</tspan><tspan x="29.89" y="0" font-size="6.0" font-weight="bold">H</tspan></text>
</svg>
</body></html>
